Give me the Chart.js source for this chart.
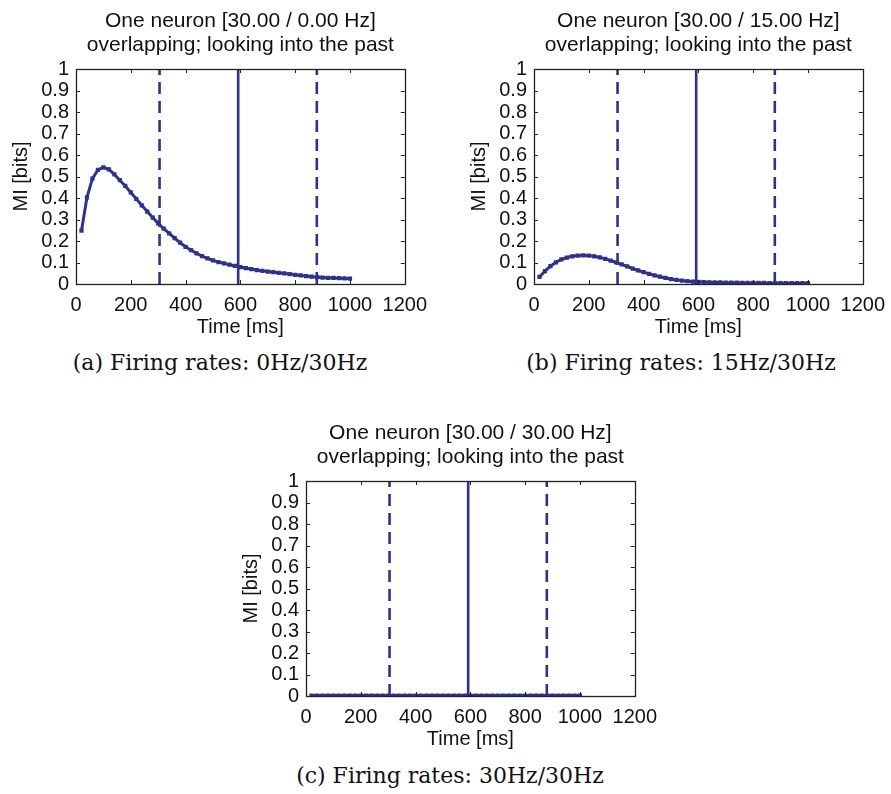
<!DOCTYPE html>
<html>
<head>
<meta charset="utf-8">
<script src="https://cdn.jsdelivr.net/npm/chart.js@4/dist/chart.umd.min.js"></script>
<style>
  body { margin: 0; background: #fff; width: 891px; height: 794px; position: relative; overflow: hidden; }
  .panel { position: absolute; width: 436px; height: 345px; }
  .caption { position: absolute; font-family: 'DejaVu Serif', 'Liberation Serif', serif; font-size: 22px; line-height: 22px; color: #111; white-space: nowrap; transform: translateX(-50%); }
</style>
</head>
<body>
<div class="panel" style="left:0;top:0"><canvas id="chartA"></canvas></div>
<div class="panel" style="left:458px;top:0"><canvas id="chartB"></canvas></div>
<div class="panel" style="left:230px;top:412px"><canvas id="chartC"></canvas></div>
<div class="caption" style="left:220px;top:352px">(a) Firing rates: 0Hz/30Hz</div>
<div class="caption" style="left:681px;top:352px">(b) Firing rates: 15Hz/30Hz</div>
<div class="caption" style="left:450px;top:765px">(c) Firing rates: 30Hz/30Hz</div>
<script>
// time axis of the sliding window (ms)
const timeMs = [20, 40, 60, 80, 100, 120, 140, 160, 180, 200,
  220, 240, 260, 280, 300, 320, 340, 360, 380, 400,
  420, 440, 460, 480, 500, 520, 540, 560, 580, 600,
  620, 640, 660, 680, 700, 720, 740, 760, 780, 800,
  820, 840, 860, 880, 900, 920, 940, 960, 980, 1000];

// mutual information, 30 Hz vs 0 Hz
const miA = [0.248, 0.403, 0.490, 0.531, 0.542, 0.533, 0.510, 0.483, 0.456, 0.426,
  0.396, 0.366, 0.337, 0.309, 0.282, 0.257, 0.235, 0.213, 0.192, 0.173,
  0.157, 0.143, 0.130, 0.119, 0.110, 0.102, 0.096, 0.090, 0.084, 0.079,
  0.074, 0.069, 0.065, 0.061, 0.058, 0.055, 0.052, 0.049, 0.046, 0.043,
  0.040, 0.037, 0.034, 0.032, 0.030, 0.029, 0.028, 0.027, 0.026, 0.025];

// 30 Hz vs 15 Hz
const miB = [0.033, 0.060, 0.083, 0.101, 0.114, 0.123, 0.129, 0.132, 0.133, 0.132,
  0.129, 0.124, 0.117, 0.109, 0.100, 0.091, 0.082, 0.072, 0.063, 0.055,
  0.047, 0.040, 0.034, 0.028, 0.023, 0.019, 0.016, 0.013, 0.011, 0.010,
  0.009, 0.008, 0.007, 0.007, 0.006, 0.006, 0.006, 0.005, 0.005, 0.005,
  0.005, 0.005, 0.004, 0.004, 0.004, 0.004, 0.004, 0.004, 0.004, 0.004];

// 30 Hz vs 30 Hz
const miC = [0.002, 0.002, 0.002, 0.002, 0.002, 0.002, 0.002, 0.002, 0.002, 0.002,
  0.002, 0.002, 0.002, 0.002, 0.002, 0.002, 0.002, 0.002, 0.002, 0.002,
  0.002, 0.002, 0.002, 0.002, 0.002, 0.002, 0.002, 0.002, 0.002, 0.002,
  0.002, 0.002, 0.002, 0.002, 0.002, 0.002, 0.002, 0.002, 0.002, 0.002,
  0.002, 0.002, 0.002, 0.002, 0.002, 0.002, 0.002, 0.002, 0.002, 0.002];

// window start, stimulus onset, window end
const markerTimes = [305, 592, 879];
const markerDashed = [true, false, true];

const xTicks = [0, 200, 400, 600, 800, 1000, 1200];
const yTicks = ['0', '0.1', '0.2', '0.3', '0.4', '0.5', '0.6', '0.7', '0.8', '0.9', '1'];

const BLUE = '#2d3191';
const FONT = "'Liberation Sans', Arial, Helvetica, sans-serif";

// box around the plot with inward ticks on all four sides,
// plus a two-line title centred over the axes
const boxTicks = {
  id: 'boxTicks',
  afterDraw(chart, args, opts) {
    const { ctx, chartArea: a, scales: { x, y } } = chart;
    ctx.save();
    ctx.strokeStyle = '#222';
    ctx.lineWidth = 1;
    ctx.beginPath();
    x.ticks.forEach(t => {
      const px = Math.round(x.getPixelForValue(t.value)) + 0.5;
      ctx.moveTo(px, a.bottom); ctx.lineTo(px, a.bottom - 4);
      ctx.moveTo(px, a.top); ctx.lineTo(px, a.top + 4);
    });
    y.ticks.forEach(t => {
      const py = Math.round(y.getPixelForValue(t.value)) + 0.5;
      ctx.moveTo(a.left, py); ctx.lineTo(a.left + 4, py);
      ctx.moveTo(a.right, py); ctx.lineTo(a.right - 4, py);
    });
    ctx.stroke();
    ctx.lineWidth = 1.3;
    ctx.strokeRect(Math.round(a.left) + 0.5, Math.round(a.top) + 0.5,
      Math.round(a.right - a.left), Math.round(a.bottom - a.top));

    ctx.fillStyle = '#111';
    ctx.font = '21px ' + FONT;
    ctx.textAlign = 'center';
    ctx.textBaseline = 'middle';
    const cx = (a.left + a.right) / 2;
    opts.lines.forEach((line, i) => ctx.fillText(line, cx, 21 + i * 24));
    ctx.restore();
  }
};

function makeChart(id, titleRates, values) {
  const curve = {
    data: timeMs.map((t, i) => ({ x: t, y: values[i] })),
    borderColor: BLUE,
    backgroundColor: BLUE,
    borderWidth: 3,
    pointStyle: 'rect',
    pointRadius: 3,
    pointBorderWidth: 0,
    showLine: true,
    order: 2
  };
  const markers = markerTimes.map((t, i) => ({
    data: [{ x: t, y: 0 }, { x: t, y: 1 }],
    borderColor: BLUE,
    borderWidth: 2.6,
    borderDash: markerDashed[i] ? [12, 7] : [],
    pointRadius: 0,
    showLine: true,
    order: 1
  }));

  return new Chart(document.getElementById(id), {
    type: 'scatter',
    data: { datasets: [curve, ...markers] },
    options: {
      responsive: false,
      animation: false,
      devicePixelRatio: 1,
      layout: { padding: { left: 0, right: 30, top: 69, bottom: 0 } },
      plugins: {
        legend: { display: false },
        tooltip: { enabled: false },
        title: { display: false },
        boxTicks: { lines: ['One neuron [' + titleRates + ']', 'overlapping; looking into the past'] }
      },
      scales: {
        x: {
          type: 'linear',
          min: 0, max: 1200,
          afterBuildTicks: s => { s.ticks = xTicks.map(v => ({ value: v })); },
          afterFit: s => { s.height = 61; },
          grid: { display: false, drawTicks: false },
          border: { display: false },
          ticks: { color: '#111', font: { family: FONT, size: 20 }, padding: 9, maxRotation: 0, autoSkip: false,
            callback: v => String(v) },
          title: { display: true, text: 'Time [ms]', color: '#111', font: { family: FONT, size: 20 }, padding: { top: 0, bottom: 6 } }
        },
        y: {
          type: 'linear',
          min: 0, max: 1,
          afterBuildTicks: s => { s.ticks = yTicks.map(v => ({ value: parseFloat(v) })); },
          afterFit: s => { s.width = 76; },
          grid: { display: false, drawTicks: false },
          border: { display: false },
          ticks: { color: '#111', font: { family: FONT, size: 20 }, padding: 7, autoSkip: false,
            callback: (v, i) => yTicks[i] },
          title: { display: true, text: 'MI [bits]', color: '#111', font: { family: FONT, size: 20 }, padding: { top: 9, bottom: 0 } }
        }
      }
    },
    plugins: [boxTicks]
  });
}

[['chartA', '30.00 / 0.00 Hz', miA],
 ['chartB', '30.00 / 15.00 Hz', miB],
 ['chartC', '30.00 / 30.00 Hz', miC]].forEach(([id, rates, vals]) => {
  const c = document.getElementById(id);
  c.width = 436; c.height = 345;
  makeChart(id, rates, vals);
});
</script>
</body>
</html>
